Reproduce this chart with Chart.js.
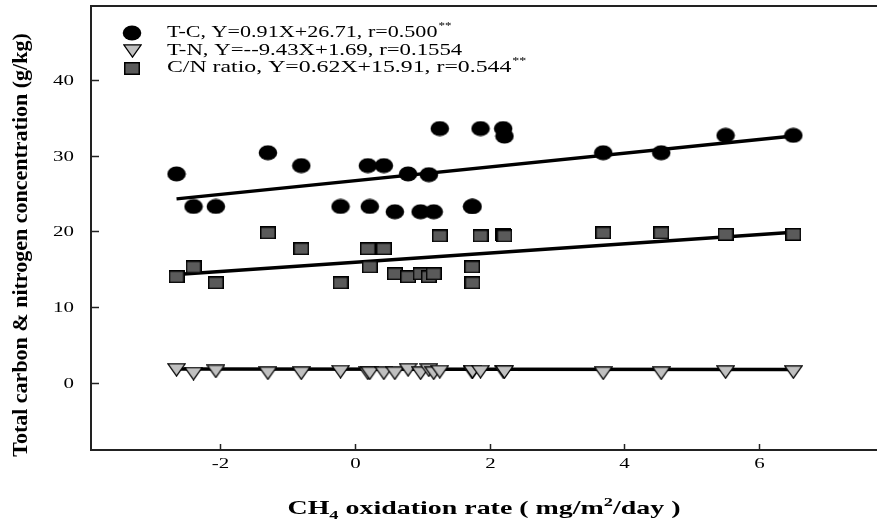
<!DOCTYPE html>
<html><head><meta charset="utf-8">
<script src="https://cdn.jsdelivr.net/npm/chart.js@4/dist/chart.umd.min.js"></script>
<style>html,body{margin:0;padding:0;background:#fff;}#wrap{width:877px;height:526px;}</style>
</head><body><div id="wrap"><canvas id="c" width="877" height="526"></canvas></div>
<script>
// ---- data ----
const xRate = [-2.645, -2.393, -2.062, -1.29, -0.795, -0.212, 0.193, 0.222, 0.43, 0.593, 0.79, 0.975, 1.098, 1.17, 1.26, 1.74, 1.745, 1.865, 2.2, 2.22, 3.685, 4.545, 5.5, 6.505];
const tcValues = [27.6, 23.3, 23.3, 30.4, 28.7, 23.3, 28.7, 23.3, 28.7, 22.6, 27.6, 22.6, 27.5, 22.6, 33.6, 23.3, 23.3, 33.6, 33.6, 32.6, 30.4, 30.4, 32.7, 32.7];
const tnValues = [1.7, 1.2, 1.5, 1.25, 1.25, 1.45, 1.25, 1.25, 1.25, 1.25, 1.7, 1.25, 1.65, 1.25, 1.45, 1.35, 1.45, 1.45, 1.45, 1.4, 1.25, 1.25, 1.4, 1.4];
const cnValues = [14.0, 15.3, 13.2, 19.8, 17.7, 13.2, 17.7, 15.3, 17.7, 14.4, 14.0, 14.4, 14.0, 14.4, 19.4, 15.3, 13.2, 19.4, 19.6, 19.4, 19.8, 19.8, 19.6, 19.6];
const fitX = [-2.645, 6.505];
const tcFit = [24.3, 32.6];
const tnFit = [1.8, 1.75];
const cnFit = [14.3, 19.9];
const xTicks = [-2, 0, 2, 4, 6];
const yTicks = [0, 10, 20, 30, 40];
const legendLabels = ['T-C, Y=0.91X+26.71, r=0.500', 'T-N, Y=--9.43X+1.69, r=0.1554', 'C/N ratio, Y=0.62X+15.91, r=0.544'];
const legendSup = ['**', '', '**'];

const SERIF = '"Liberation Serif", "Times New Roman", serif';
const pts = (xs, ys) => xs.map((v, i) => ({x: v, y: ys[i]}));

// marker images (slightly wide, like the reference)
function makeMarker(w, h, draw) {
  const c = document.createElement('canvas'); c.width = w; c.height = h;
  draw(c.getContext('2d'), w, h); return c;
}
const circleImg = makeMarker(20, 16, (g, w, h) => {
  g.fillStyle = '#000'; g.beginPath(); g.ellipse(w / 2, h / 2, 9.3, 7.6, 0, 0, Math.PI * 2); g.fill();
});
const rectImg = makeMarker(16, 13, (g, w, h) => {
  g.fillStyle = '#5a5a5a'; g.strokeStyle = '#000'; g.lineWidth = 1.5;
  g.fillRect(0.75, 0.75, w - 1.5, h - 1.5); g.strokeRect(0.75, 0.75, w - 1.5, h - 1.5);
});
const triImg = makeMarker(19, 14, (g, w, h) => {
  g.fillStyle = '#c0c0c0'; g.strokeStyle = '#000'; g.lineWidth = 1.3; g.lineJoin = 'miter';
  g.beginPath(); g.moveTo(0.8, 0.8); g.lineTo(w - 0.8, 0.8); g.lineTo(w / 2, h - 0.9); g.closePath(); g.fill(); g.stroke();
});
const markers = [circleImg, triImg, rectImg];

function scatterSet(label, data, img, order) {
  return {label, data, showLine: false, order, pointStyle: img, pointRadius: 8, pointHoverRadius: 8,
    backgroundColor: '#000', borderColor: '#000'};
}
function lineSet(data) {
  return {label: 'fit', data, showLine: true, order: 10, pointRadius: 0, pointHoverRadius: 0,
    borderColor: '#000000', borderWidth: 3.5, fill: false};
}

function wideText(ctx, text, x, y, sx, align) {
  ctx.save(); ctx.translate(x, y); ctx.scale(sx, 1);
  ctx.textAlign = align; ctx.fillText(text, 0, 0); ctx.restore();
}

const overlay = {
  id: 'overlay',
  afterDraw(chart) {
    const {ctx, chartArea: ca, scales: {x, y}} = chart;
    ctx.save();
    // top frame line
    ctx.strokeStyle = '#222'; ctx.lineWidth = 2;
    ctx.beginPath(); ctx.moveTo(ca.left - 1, ca.top); ctx.lineTo(ca.right, ca.top); ctx.stroke();
    // inward tick marks + tick labels
    ctx.lineWidth = 1.5; ctx.fillStyle = '#000';
    ctx.font = '15.5px ' + SERIF; ctx.textBaseline = 'middle';
    xTicks.forEach(v => { const px = Math.round(x.getPixelForValue(v)) + 0.5;
      ctx.beginPath(); ctx.moveTo(px, ca.bottom); ctx.lineTo(px, ca.bottom - 6); ctx.stroke();
      wideText(ctx, String(v), px, ca.bottom + 14, 1.35, 'center'); });
    yTicks.forEach(v => { const py = Math.round(y.getPixelForValue(v)) + 0.5;
      ctx.beginPath(); ctx.moveTo(ca.left, py); ctx.lineTo(ca.left + 8, py); ctx.stroke();
      wideText(ctx, String(v), ca.left - 17, py, 1.35, 'right'); });
    // legend
    const rowY = [33, 50.5, 68];
    const rowSx = [1.3, 1.34, 1.4];
    const mx = 132, tx = 167;
    markers.forEach((img, i) => {
      const sx = rowSx[i];
      ctx.drawImage(img, Math.round(mx - img.width / 2), Math.round(rowY[i] - img.height / 2));
      ctx.fillStyle = '#000'; ctx.textBaseline = 'middle';
      ctx.font = '17px ' + SERIF;
      wideText(ctx, legendLabels[i], tx, rowY[i], sx, 'left');
      if (legendSup[i]) {
        const w = ctx.measureText(legendLabels[i]).width * sx;
        ctx.font = '10px ' + SERIF;
        wideText(ctx, legendSup[i], tx + w + 1, rowY[i] - 7, sx, 'left');
      }
    });
    // x title with subscript / superscript
    const parts = [['CH', 19, 0], ['4', 12.5, 5], [' oxidation rate ( mg/m', 19, 0], ['2', 12.5, -8], ['/day )', 19, 0]];
    const tsx = 1.47;
    ctx.textBaseline = 'alphabetic';
    let total = 0;
    parts.forEach(p => { ctx.font = 'bold ' + p[1] + 'px ' + SERIF; total += ctx.measureText(p[0]).width * tsx; });
    let cx = (ca.left + ca.right) / 2 - total / 2;
    const base = 514;
    parts.forEach(p => { ctx.font = 'bold ' + p[1] + 'px ' + SERIF;
      wideText(ctx, p[0], cx, base + p[2], tsx, 'left'); cx += ctx.measureText(p[0]).width * tsx; });
    // y title
    ctx.translate(21, 245); ctx.rotate(-Math.PI / 2);
    ctx.font = 'bold 22px ' + SERIF; ctx.textAlign = 'center'; ctx.textBaseline = 'middle';
    ctx.fillText('Total carbon & nitrogen concentration (g/kg)', 0, 0);
    ctx.restore();
  }
};

function zeroPad(s) { s.paddingLeft = 0; s.paddingRight = 0; s.paddingTop = 0; s.paddingBottom = 0; }

new Chart(document.getElementById('c'), {
  type: 'scatter',
  data: {datasets: [
    scatterSet('T-C', pts(xRate, tcValues), circleImg, 2),
    scatterSet('T-N', pts(xRate, tnValues), triImg, 0),
    scatterSet('C/N ratio', pts(xRate, cnValues), rectImg, 1),
    lineSet(pts(fitX, tcFit)),
    lineSet(pts(fitX, tnFit)),
    lineSet(pts(fitX, cnFit))
  ]},
  options: {
    responsive: false, animation: false, devicePixelRatio: 1,
    layout: {autoPadding: false, padding: {top: 6, right: 0, left: 0, bottom: 0}},
    plugins: {legend: {display: false}, tooltip: {enabled: false}},
    scales: {
      x: {type: 'linear', min: -3.914, max: 7.746,
        afterFit: s => { s.height = 76; zeroPad(s); },
        afterBuildTicks: s => { s.ticks = xTicks.map(v => ({value: v})); },
        grid: {display: false, drawTicks: false},
        border: {display: true, color: '#222', width: 2},
        ticks: {display: false}
      },
      y: {type: 'linear', min: -8.9, max: 49.8,
        afterFit: s => { s.width = 91; zeroPad(s); },
        afterBuildTicks: s => { s.ticks = yTicks.map(v => ({value: v})); },
        grid: {display: false, drawTicks: false},
        border: {display: true, color: '#222', width: 2},
        ticks: {display: false}
      }
    }
  },
  plugins: [overlay]
});
</script></body></html>
